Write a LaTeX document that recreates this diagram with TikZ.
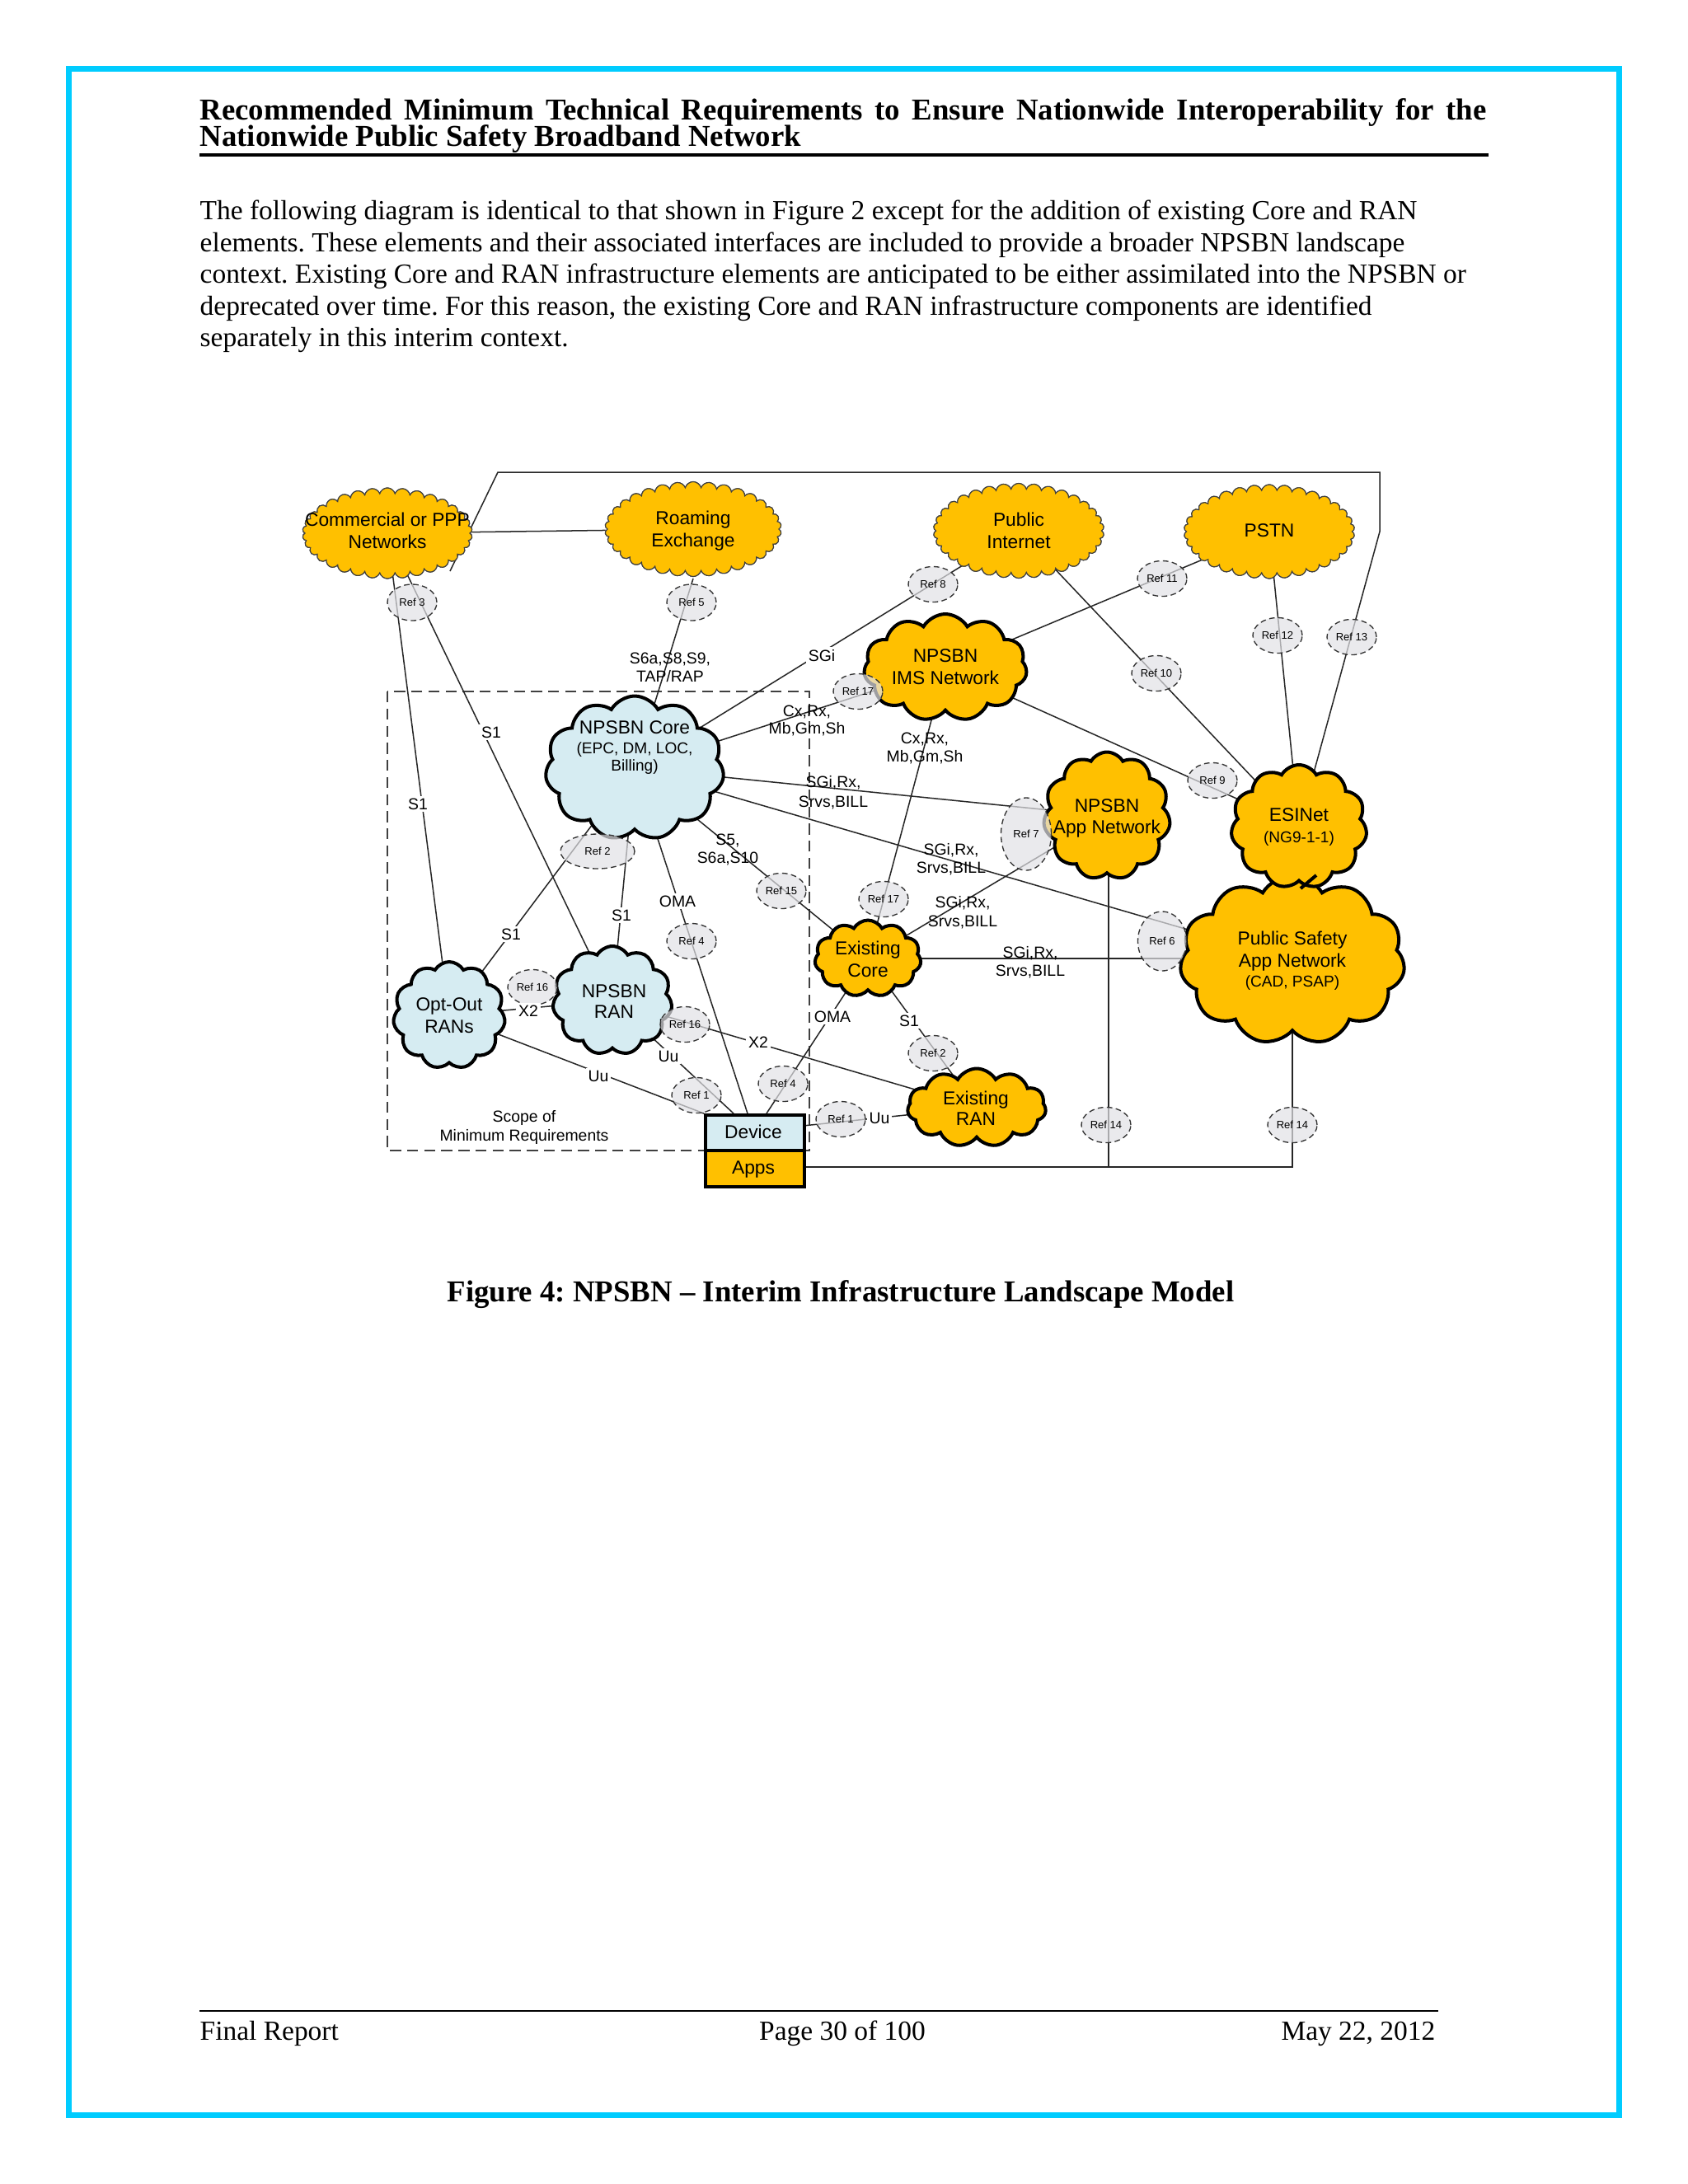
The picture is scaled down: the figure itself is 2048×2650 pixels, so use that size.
\documentclass[tikz,border=0pt]{standalone}
\usepackage{fontspec}
\setmainfont{Liberation Serif}
\setsansfont{Liberation Sans}
\usetikzlibrary{shapes.symbols,shapes.geometric,calc}
\definecolor{frameblue}{RGB}{0,204,255}
\definecolor{cyel}{RGB}{255,192,0}
\definecolor{cblue}{RGB}{214,236,242}
\definecolor{rfill}{RGB}{226,226,230}
\newcommand{\pxu}{0.29883pt}
\frenchspacing
\begin{document}
\begin{tikzpicture}[x=0.29883pt,y=-0.29883pt,
 wavy/.style={cloud,cloud puffs=34,cloud puff arc=150,cloud ignores aspect,draw=black!75,line width=0.35pt,fill=cyel,inner sep=0pt},
 boldcl/.style={cloud,cloud puffs=11,cloud puff arc=120,cloud ignores aspect,draw=black,line width=1.2pt,inner sep=0pt},
 conn/.style={line width=0.45pt,draw=black!85},
 refst/.style={ellipse,draw=black!80,dash pattern=on 2pt off 1.3pt,line width=0.4pt,fill=rfill,fill opacity=0.7,text opacity=1,inner sep=0pt,font=\sffamily\fontsize{3.9}{4.5}\selectfont},
 ct/.style={anchor=base,inner sep=0pt,font=\sffamily\fontsize{6.8}{8}\selectfont},
 cs/.style={anchor=base,inner sep=0pt,font=\sffamily\fontsize{5.7}{7}\selectfont},
 lab/.style={anchor=base,inner sep=0pt,font=\sffamily\fontsize{5.8}{7}\selectfont},
 labw/.style={lab,fill=white,inner sep=0.8pt},
 body/.style={anchor=base west,inner sep=0pt,font=\fontsize{10}{12}\selectfont},
]
\useasboundingbox (0,0) rectangle (2048,2650);
\fill[white] (0,0) rectangle (2048,2650);
\draw[frameblue,line width=2.1pt] (83.5,83.5) rectangle (1964.5,2566);

% header
\node[anchor=base west,inner sep=0pt,font=\bfseries\fontsize{11}{11}\selectfont] (t1) at (242,145)
 {\makebox[466.5pt][s]{Recommended Minimum Technical Requirements to Ensure Nationwide Interoperability for the}};
\node[anchor=base west,inner sep=0pt,font=\bfseries\fontsize{11}{11}\selectfont] (t2) at (242,177)
 {Nationwide Public Safety Broadband Network};
\draw[line width=1pt] (242,188) -- (1806,188);

\node[body] (b1) at (242,266) {The following diagram is identical to that shown in Figure 2 except for the addition of existing Core and RAN};
\node[body] (b2) at (242,305) {elements. These elements and their associated interfaces are included to provide a broader NPSBN landscape};
\node[body] (b3) at (242,343) {context. Existing Core and RAN infrastructure elements are anticipated to be either assimilated into the NPSBN or};
\node[body] (b4) at (242,382) {deprecated over time. For this reason, the existing Core and RAN infrastructure components are identified};
\node[body] (b5) at (242,420) {separately in this interim context.};

% scope rectangle
\draw[black!75,line width=0.5pt,dash pattern=on 4pt off 2.2pt] (470,839) rectangle (982,1396);

% top clouds (first pass, so connectors can refer to them)
\node[wavy,minimum width=206*\pxu,minimum height=110*\pxu] (comm) at (470,647) {};
\node[wavy,minimum width=214*\pxu,minimum height=115*\pxu] (roam) at (841,642) {};
\node[wavy,minimum width=207*\pxu,minimum height=115*\pxu] (pi) at (1236,644) {};
\node[wavy,minimum width=207*\pxu,minimum height=114*\pxu] (pstn) at (1540,645) {};

% named centres of the other elements
\coordinate (imsC) at (1147,810);
\coordinate (coreC) at (770,932);
\coordinate (appC) at (1343,990);
\coordinate (psanC) at (1568,1165);
\coordinate (esiC) at (1576,1003);
\coordinate (excoreC) at (1053,1163);
\coordinate (exranC) at (1185,1344);
\coordinate (optC) at (545,1232);
\coordinate (nranC) at (743,1214);
\coordinate (roamS) at (841,702);
\coordinate (devA) at (907,1351);
\coordinate (devB) at (890,1351);
\coordinate (devC) at (854,1351);
\coordinate (devD) at (930,1351);
\coordinate (devE) at (974,1366);
\coordinate (appsE) at (974,1416);
\coordinate (appX) at (1345,990);

% connectors (behind the bold clouds)
\begin{scope}[conn]
\coordinate (tfa) at (546,693);
\coordinate (tfb) at (604,573);
\coordinate (tfc) at (1674,573);
\coordinate (tfd) at (1674,645);
\draw (tfa) -- (tfb) -- (tfc) -- (tfd) -- (esiC);
\draw (comm) -- (roam);
\draw (comm.center) -- (optC);
\draw (comm.center) -- (nranC);
\draw (roamS) -- (coreC);
\draw (pi.center) -- (coreC);
\draw (coreC) -- (imsC);
\draw (pstn.center) -- (imsC);
\draw (pi.center) -- (esiC);
\draw (pstn.center) -- (esiC);
\draw (imsC) -- (esiC);
\draw (coreC) -- (appC);
\draw (coreC) -- (psanC);
\draw (coreC) -- (excoreC);
\draw (imsC) -- (excoreC);
\draw (excoreC) -- (appC);
\draw (excoreC) -- (excoreC -| psanC);
\draw (coreC) -- (optC);
\draw (coreC) -- (nranC);
\draw (coreC) -- (devA);
\draw (optC) -- (nranC);
\draw (nranC) -- (exranC);
\draw (nranC) -- (devB);
\draw (optC) -- (devC);
\draw (excoreC) -- (devD);
\draw (excoreC) -- (exranC);
\draw (devE) -- (exranC);
\draw (appsE) -| (psanC);
\draw (appX) -- (appX |- appsE);
\end{scope}

% redraw top clouds on top of lines
\node[wavy,minimum width=206*\pxu,minimum height=110*\pxu] (comm2) at (comm) {};
\node[wavy,minimum width=214*\pxu,minimum height=115*\pxu] (roam2) at (roam) {};
\node[wavy,minimum width=207*\pxu,minimum height=115*\pxu] (pi2) at (pi) {};
\node[wavy,minimum width=207*\pxu,minimum height=114*\pxu] (pstn2) at (pstn) {};

% bold clouds
\node[boldcl,fill=cyel,minimum width=198*\pxu,minimum height=130*\pxu] (ims) at (imsC) {};
\node[boldcl,fill=cblue,minimum width=217*\pxu,minimum height=175*\pxu] (core) at (coreC) {};
\node[boldcl,fill=cyel,minimum width=154*\pxu,minimum height=155*\pxu] (app) at (appC) {};
\node[boldcl,fill=cyel,minimum width=273*\pxu,minimum height=205*\pxu] (psan) at (psanC) {};
\node[boldcl,fill=cyel,minimum width=165*\pxu,minimum height=150*\pxu] (esi) at (esiC) {};
\draw[line width=1.2pt] ($(esi)+(2,75)$) -- ($(psan)+(29,-103)$);
\node[boldcl,fill=cyel,minimum width=129*\pxu,minimum height=93*\pxu] (excore) at (excoreC) {};
\node[boldcl,fill=cyel,minimum width=168*\pxu,minimum height=95*\pxu] (exran) at (exranC) {};
\node[boldcl,fill=cblue,minimum width=136*\pxu,minimum height=130*\pxu] (opt) at (optC) {};
\node[boldcl,fill=cblue,minimum width=145*\pxu,minimum height=132*\pxu] (nran) at (nranC) {};

% device / apps
\node[draw,line width=1.2pt,fill=cblue,minimum width=120*\pxu,minimum height=43*\pxu,anchor=north west,inner sep=0pt] (dev) at (854,1351) {};
\node[draw,line width=1.2pt,fill=cyel,minimum width=120*\pxu,minimum height=44*\pxu,anchor=north west,inner sep=0pt] (apps) at (854,1394) {};

% cloud texts
\node[ct] (commt1) at (470,638) {Commercial or PPP};
\node[ct] (commt2) at (470,665) {Networks};
\node[ct] (roamt1) at (841,636) {Roaming};
\node[ct] (roamt2) at (841,663) {Exchange};
\node[ct] (pit1) at (1236,638) {Public};
\node[ct] (pit2) at (1236,665) {Internet};
\node[ct] (pstnt) at (1540,651) {PSTN};
\node[ct] (imst1) at (1147,803) {NPSBN};
\node[ct] (imst2) at (1147,830) {IMS Network};
\node[ct] (coret1) at (770,890) {NPSBN Core};
\node[cs] (coret2) at (770,914) {(EPC, DM, LOC,};
\node[cs] (coret3) at (770,935) {Billing)};
\node[ct] (appt1) at (1343,985) {NPSBN};
\node[ct] (appt2) at (1343,1011) {App Network};
\node[ct] (esit1) at (1576,996) {ESINet};
\node[cs] (esit2) at (1576,1022) {(NG9-1-1)};
\node[ct] (psant1) at (1568,1146) {Public Safety};
\node[ct] (psant2) at (1568,1173) {App Network};
\node[cs] (psant3) at (1568,1197) {(CAD, PSAP)};
\node[ct] (excoret1) at (1053,1158) {Existing};
\node[ct] (excoret2) at (1053,1185) {Core};
\node[ct] (exrant1) at (1184,1340) {Existing};
\node[ct] (exrant2) at (1184,1365) {RAN};
\node[ct] (optt1) at (545,1226) {Opt-Out};
\node[ct] (optt2) at (545,1253) {RANs};
\node[ct] (nrant1) at (745,1210) {NPSBN};
\node[ct] (nrant2) at (745,1235) {RAN};
\node[ct] (devt) at (914,1381) {Device};
\node[ct] (appst) at (914,1424) {Apps};
\node[lab] (sc1) at (636,1361) {Scope of};
\node[lab] (sc2) at (636,1384) {Minimum Requirements};

% refs
\node[refst,minimum width=60*\pxu,minimum height=44*\pxu] (r3) at (500,731) {Ref 3};
\node[refst,minimum width=60*\pxu,minimum height=44*\pxu] (r5) at (839,731) {Ref 5};
\node[refst,minimum width=60*\pxu,minimum height=43*\pxu] (r8) at (1132,709) {Ref 8};
\node[refst,minimum width=60*\pxu,minimum height=43*\pxu] (r11) at (1410,702) {Ref 11};
\node[refst,minimum width=60*\pxu,minimum height=43*\pxu] (r12) at (1550,771) {Ref 12};
\node[refst,minimum width=60*\pxu,minimum height=43*\pxu] (r13) at (1640,773) {Ref 13};
\node[refst,minimum width=60*\pxu,minimum height=43*\pxu] (r10) at (1403,817) {Ref 10};
\node[refst,minimum width=60*\pxu,minimum height=43*\pxu] (r17a) at (1041,839) {Ref 17};
\node[refst,minimum width=60*\pxu,minimum height=43*\pxu] (r9) at (1471,947) {Ref 9};
\node[refst,minimum width=61*\pxu,minimum height=88*\pxu] (r7) at (1245,1012) {Ref 7};
\node[refst,minimum width=59*\pxu,minimum height=72*\pxu] (r6) at (1410,1142) {Ref 6};
\node[refst,minimum width=60*\pxu,minimum height=43*\pxu] (r17b) at (1072,1091) {Ref 17};
\node[refst,minimum width=60*\pxu,minimum height=43*\pxu] (r15) at (948,1081) {Ref 15};
\node[refst,minimum width=90*\pxu,minimum height=42*\pxu] (r2a) at (725,1033) {Ref 2};
\node[refst,minimum width=60*\pxu,minimum height=43*\pxu] (r4a) at (839,1142) {Ref 4};
\node[refst,minimum width=60*\pxu,minimum height=43*\pxu] (r16a) at (646,1198) {Ref 16};
\node[refst,minimum width=60*\pxu,minimum height=43*\pxu] (r16b) at (831,1243) {Ref 16};
\node[refst,minimum width=60*\pxu,minimum height=43*\pxu] (r1a) at (845,1329) {Ref 1};
\node[refst,minimum width=60*\pxu,minimum height=43*\pxu] (r4b) at (950,1315) {Ref 4};
\node[refst,minimum width=60*\pxu,minimum height=43*\pxu] (r1b) at (1020,1358) {Ref 1};
\node[refst,minimum width=60*\pxu,minimum height=43*\pxu] (r2b) at (1132,1278) {Ref 2};
\node[refst,minimum width=60*\pxu,minimum height=43*\pxu] (r14a) at (1342,1365) {Ref 14};
\node[refst,minimum width=60*\pxu,minimum height=43*\pxu] (r14b) at (1568,1365) {Ref 14};

% connector labels
\node[lab] (l1a) at (813,805) {S6a,S8,S9,};
\node[lab] (l1b) at (813,827) {TAP/RAP};
\node[labw] (l2) at (997,802) {SGi};
\node[lab] (l3a) at (979,869) {Cx,Rx,};
\node[lab] (l3b) at (979,890) {Mb,Gm,Sh};
\node[labw] (l4) at (507,982) {S1};
\node[labw] (l5) at (596,895) {S1};
\node[lab] (l6a) at (1011,955) {SGi,Rx,};
\node[lab] (l6b) at (1011,979) {Srvs,BILL};
\node[lab] (l7a) at (1122,902) {Cx,Rx,};
\node[lab] (l7b) at (1122,924) {Mb,Gm,Sh};
\node[lab] (l8a) at (883,1025) {S5,};
\node[lab] (l8b) at (883,1047) {S6a,S10};
\node[lab] (l9a) at (1154,1037) {SGi,Rx,};
\node[lab] (l9b) at (1154,1059) {Srvs,BILL};
\node[lab] (l10a) at (1168,1101) {SGi,Rx,};
\node[lab] (l10b) at (1168,1124) {Srvs,BILL};
\node[lab] (l11a) at (1250,1162) {SGi,Rx,};
\node[lab] (l11b) at (1250,1184) {Srvs,BILL};
\node[labw] (l12) at (620,1140) {S1};
\node[labw] (l13) at (754,1117) {S1};
\node[labw] (l14) at (822,1100) {OMA};
\node[labw] (l15) at (641,1233) {X2};
\node[labw] (l16) at (920,1271) {X2};
\node[labw] (l17) at (811,1288) {Uu};
\node[labw] (l18) at (726,1312) {Uu};
\node[labw] (l19) at (1010,1240) {OMA};
\node[labw] (l20) at (1103,1245) {S1};
\node[labw] (l21) at (1067,1363) {Uu};

% caption and footer
\node[anchor=base,inner sep=0pt,font=\bfseries\fontsize{11}{13}\selectfont] (cap) at (1020,1579) {Figure 4: NPSBN -- Interim Infrastructure Landscape Model};
\draw[line width=0.6pt] (242,2440) -- (1745,2440);
\node[anchor=base west,inner sep=0pt,font=\fontsize{10}{12}\selectfont] (f1) at (242,2475) {Final Report};
\node[anchor=base,inner sep=0pt,font=\fontsize{10}{12}\selectfont] (f2) at (1022,2475) {Page 30 of 100};
\node[anchor=base east,inner sep=0pt,font=\fontsize{10}{12}\selectfont] (f3) at (1742,2475) {May 22, 2012};
\end{tikzpicture}
\end{document}
